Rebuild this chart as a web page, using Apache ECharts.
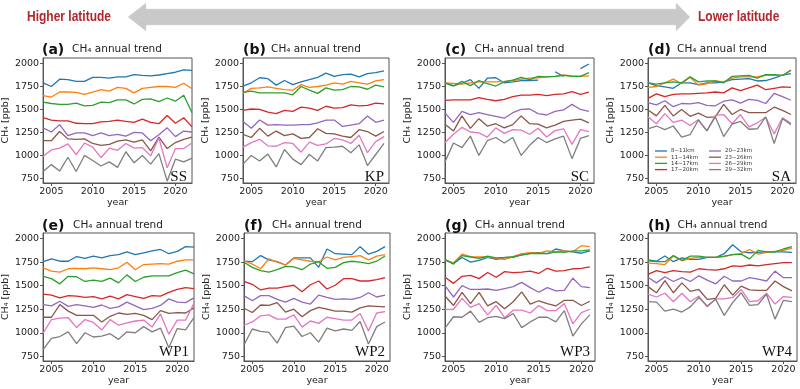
<!DOCTYPE html>
<html>
<head>
<meta charset="utf-8">
<script src="https://cdn.jsdelivr.net/npm/echarts@6/dist/echarts.min.js"></script>
<style>html,body{margin:0;padding:0;background:#fff}#c{width:800px;height:389px}</style>
</head>
<body>
<div id="c"></div>
<script>
// ---------- data ----------
const YEARS_LONG = [2004,2005,2006,2007,2008,2009,2010,2011,2012,2013,2014,2015,2016,2017,2018,2019,2020,2021,2022];
const YEARS = [2004,2005,2006,2007,2008,2009,2010,2011,2012,2013,2014,2015,2016,2017,2018,2019,2020,2021];
const LAYERS = ['8~11km','11~14km','14~17km','17~20km','20~23km','23~26km','26~29km','29~32km'];
const X_TICKS = [2005,2010,2015,2020];
const Y_TICKS = [750,1000,1250,1500,1750,2000];
const PANEL_LETTERS = ['(a)','(b)','(c)','(d)','(e)','(f)','(g)','(h)'];
const REGIONS = ['SS','KP','SC','SA','WP1','WP2','WP3','WP4'];

const SS = [
  [1790,1750,1830,1825,1805,1805,1850,1850,1840,1855,1855,1880,1870,1865,1875,1890,1905,1930,1925],
  [1650,1635,1690,1690,1685,1665,1690,1715,1700,1740,1730,1680,1730,1740,1750,1750,1740,1785,1725],
  [1580,1565,1555,1555,1570,1540,1545,1580,1575,1605,1605,1560,1610,1615,1585,1625,1590,1655,1465],
  [1410,1385,1375,1375,1350,1345,1345,1365,1370,1385,1370,1360,1395,1360,1345,1435,1350,1410,1310],
  [1300,1255,1335,1215,1245,1245,1215,1245,1215,1230,1210,1250,1245,1160,1225,1300,1205,1265,1255],
  [1160,1160,1260,1180,1175,1180,1130,1110,1120,1155,1170,1145,1170,1050,1200,1075,1140,1175,1200],
  [990,1060,1080,1125,1010,1135,1090,975,1080,1055,1130,1080,1085,995,1190,865,1075,1075,1135],
  [825,900,830,980,825,1000,945,885,930,870,1040,920,1000,905,1020,720,960,930,970]
];
const KP = [
  [1755,1790,1845,1835,1765,1815,1770,1800,1825,1850,1895,1860,1880,1885,1855,1890,1900,1920],
  [1675,1730,1735,1745,1730,1715,1710,1770,1740,1750,1765,1790,1775,1805,1790,1775,1810,1825],
  [1685,1700,1680,1680,1680,1680,1660,1750,1710,1675,1735,1710,1715,1750,1745,1720,1765,1745],
  [1490,1505,1500,1470,1455,1490,1480,1525,1515,1490,1535,1515,1520,1550,1540,1545,1570,1560],
  [1370,1295,1385,1330,1335,1330,1330,1335,1335,1355,1385,1385,1315,1330,1345,1430,1360,1385],
  [1230,1195,1295,1210,1265,1215,1235,1185,1195,1290,1240,1235,1210,1195,1280,1260,1210,1260],
  [1090,1140,1175,1105,1100,1140,1130,1035,1145,1110,1125,1185,1170,1130,1220,1030,1150,1205],
  [905,1000,940,1015,875,1065,960,900,1010,940,1085,1090,1100,1030,1115,890,1010,1130]
];
const SC = [
  [1790,1760,1785,1825,1730,1840,1845,1790,1800,1815,1815,1820,null,1910,1860,null,1945,1995],
  [1790,1785,1775,1790,1800,1800,1800,1805,1815,1830,1840,1845,1855,1860,1875,1865,1860,1865],
  [1790,1755,1805,1760,1815,1780,1755,1800,1820,1850,1825,1860,1855,1860,1870,1860,1860,1900],
  [1600,1605,1605,1605,1630,1610,1595,1610,1640,1655,1655,1665,1650,1665,1670,1695,1665,1690],
  [1460,1360,1480,1445,1465,1445,1425,1405,1465,1500,1505,1455,1440,1480,1495,1555,1500,1480],
  [1340,1265,1430,1295,1400,1320,1345,1300,1335,1430,1345,1340,1300,1330,1370,1385,1395,1355],
  [1140,1230,1305,1255,1245,1200,1300,1240,1280,1275,1230,1295,1200,1270,1290,1120,1280,1260],
  [930,1135,1085,1210,1000,1160,1195,1135,1195,1000,1110,1195,1140,1180,1210,965,1185,1215]
];
const SA = [
  [1790,1760,1745,1730,1790,1790,1770,1790,1790,1800,1825,1830,1835,1810,1815,1840,1875,1890],
  [1740,1750,1790,1830,1780,1850,1765,1780,1810,1800,1840,1855,1855,1855,1875,1870,1870,1925],
  [1790,1775,1790,1800,1790,1855,1800,1810,1810,1790,1860,1865,1870,1840,1880,1880,1870,1930],
  [1620,1670,1640,1665,1670,1670,1675,1680,1690,1680,1735,1705,1735,1765,1715,1730,1745,1740],
  [1575,1550,1595,1530,1565,1560,1575,1545,1540,1590,1605,1570,1610,1600,1565,1675,1640,1600],
  [1495,1430,1545,1430,1500,1425,1460,1415,1420,1555,1445,1500,1465,1465,1465,1525,1490,1445],
  [1420,1345,1455,1360,1385,1325,1390,1265,1435,1445,1345,1445,1310,1355,1415,1235,1410,1350],
  [1290,1320,1280,1320,1200,1225,1385,1270,1420,1205,1340,1370,1285,1290,1420,1130,1400,1335]
];
const WP1 = [
  [1755,1785,1760,1760,1810,1790,1815,1795,1820,1830,1860,1830,1850,1870,1885,1840,1865,1915,1910],
  [1690,1655,1645,1680,1685,1680,1690,1680,1670,1690,1750,1670,1725,1730,1735,1730,1760,1775,1775],
  [1600,1575,1520,1600,1595,1545,1560,1545,1580,1530,1615,1545,1590,1605,1605,1605,1640,1665,1625],
  [1410,1400,1370,1395,1390,1375,1385,1360,1390,1360,1405,1385,1365,1395,1390,1430,1460,1480,1470],
  [1300,1285,1335,1280,1300,1285,1270,1295,1260,1275,1325,1285,1245,1260,1290,1360,1325,1320,1370],
  [1165,1165,1300,1230,1185,1185,1185,1115,1175,1210,1195,1205,1185,1140,1235,1205,1215,1210,1265],
  [995,1140,1155,1160,1055,1140,1110,1030,1140,1080,1105,1125,1135,1060,1200,985,1135,1135,1315],
  [820,940,960,1010,885,1000,955,965,990,930,1010,1000,1065,1010,1050,840,1045,1030,1160]
];
const WP2 = [
  [1760,1755,1820,1775,1755,1720,1795,1795,1795,1695,1890,1840,1835,1830,1915,1835,1865,1915],
  [1765,1730,1680,1785,1750,1720,1790,1775,1760,1755,1805,1775,1800,1810,1820,1775,1815,1830],
  [1750,1695,1660,1645,1670,1705,1700,1670,1730,1755,1685,1695,1745,1760,1750,1735,1760,1815],
  [1545,1515,1455,1475,1475,1490,1505,1435,1510,1550,1465,1505,1575,1575,1550,1550,1565,1585],
  [1395,1340,1395,1395,1355,1325,1365,1325,1305,1400,1375,1355,1360,1355,1375,1425,1380,1400],
  [1260,1215,1295,1290,1320,1220,1250,1170,1235,1270,1250,1230,1230,1220,1265,1285,1280,1275],
  [1080,1115,1180,1190,1145,1145,1190,1060,1125,1100,1165,1150,1135,1135,1205,1020,1210,1225],
  [870,1040,1015,1005,890,1055,1070,960,1000,900,1050,1020,1040,1025,1120,880,1065,1115]
];
const WP3 = [
  [1775,1735,1800,1750,1770,1800,1780,1795,1800,1830,1845,1850,1840,1890,1870,1860,1845,1870],
  [1770,1745,1835,1810,1805,1805,1790,1780,1810,1840,1850,1845,1870,1860,1870,1860,1925,1915],
  [1780,1730,1820,1805,1790,1815,1795,1800,1810,1825,1840,1845,1840,1860,1855,1870,1870,1880],
  [1590,1525,1600,1610,1575,1640,1590,1650,1640,1645,1655,1630,1685,1655,1660,1680,1685,1700],
  [1500,1380,1500,1460,1460,1465,1450,1470,1490,1535,1480,1430,1480,1445,1450,1580,1490,1480],
  [1390,1290,1430,1310,1430,1285,1330,1255,1330,1435,1305,1340,1310,1285,1345,1345,1290,1335],
  [1245,1250,1365,1270,1310,1190,1290,1160,1240,1240,1210,1290,1235,1235,1310,1095,1215,1250],
  [1050,1170,1165,1230,1110,1160,1175,1150,1205,1055,1115,1165,1165,1115,1235,965,1095,1190]
];
const WP4 = [
  [1775,1760,1815,1755,1795,1780,1780,1800,1800,1840,1935,1860,1850,1855,1860,1860,1860,1855],
  [1740,1735,1725,1815,1765,1790,1800,1800,1800,1810,1830,1840,1885,1835,1855,1865,1875,1900],
  [1765,1755,1755,1820,1770,1815,1815,1800,1800,1815,1830,1835,1785,1875,1860,1860,1890,1915],
  [1620,1660,1640,1660,1650,1645,1680,1670,1665,1680,1710,1705,1720,1710,1725,1735,1745,1745],
  [1590,1530,1595,1545,1585,1545,1605,1560,1520,1600,1550,1550,1585,1570,1550,1655,1585,1585],
  [1490,1425,1555,1425,1530,1440,1460,1355,1365,1510,1400,1495,1455,1450,1450,1550,1490,1445],
  [1410,1380,1420,1330,1420,1330,1390,1275,1360,1360,1375,1460,1330,1340,1420,1305,1385,1375],
  [1330,1325,1230,1250,1220,1275,1375,1285,1355,1185,1320,1425,1290,1300,1410,1145,1345,1330]
];

// ---------- layout / style ----------
const COLORS = ['#1f77b4','#ff7f0e','#2ca02c','#d62728','#9467bd','#8c564b','#e377c2','#7f7f7f'];
const PANEL_DATA = [SS, KP, SC, SA, WP1, WP2, WP3, WP4];
const PANEL_YEARS = [YEARS_LONG, YEARS, YEARS, YEARS, YEARS_LONG, YEARS, YEARS, YEARS];
const BOXES = [
  {l:42, r:192, t:58, b:183}, {l:243, r:389, t:58, b:183}, {l:445, r:594, t:58, b:183}, {l:648, r:796, t:58, b:183},
  {l:42, r:194, t:233, b:361}, {l:244, r:390, t:233, b:361}, {l:445, r:595, t:233, b:361}, {l:648, r:797, t:233, b:361}
];
const FONT = "'DejaVu Sans', sans-serif";
const AX = '#555';
const plain = v => String(v);

const grids = [], xAxes = [], yAxes = [], series = [], graphics = [];
BOXES.forEach((bx, i) => {
  const yrs = PANEL_YEARS[i];
  grids.push({left: bx.l, top: bx.t, width: bx.r - bx.l, height: bx.b - bx.t, show: true, borderColor: AX, borderWidth: 1, containLabel: false});
  xAxes.push({
    type: 'value', gridIndex: i, min: 2004, max: yrs.length === 19 ? 2022 : 2021.6,
    name: 'year', nameLocation: 'middle', nameGap: 14,
    nameTextStyle: {fontFamily: FONT, fontSize: 9.5, color: '#222'},
    axisLine: {show: true, onZero: false, lineStyle: {color: AX, width: 1}},
    axisTick: {show: true, length: 3, customValues: X_TICKS, lineStyle: {color: AX}},
    axisLabel: {customValues: X_TICKS, formatter: plain, margin: 4, fontFamily: FONT, fontSize: 9.5, color: '#222'},
    splitLine: {show: false}
  });
  yAxes.push({
    type: 'value', gridIndex: i, min: 700, max: 2060,
    name: 'CH\u2084 [ppb]', nameLocation: 'middle', nameGap: 31, nameRotate: 90,
    nameTextStyle: {fontFamily: FONT, fontSize: 9.5, color: '#222'},
    axisLine: {show: true, onZero: false, lineStyle: {color: AX, width: 1}},
    axisTick: {show: true, length: 3, customValues: Y_TICKS, lineStyle: {color: AX}},
    axisLabel: {customValues: Y_TICKS, formatter: plain, margin: 4, fontFamily: FONT, fontSize: 9.5, color: '#222'},
    splitLine: {show: false}
  });
  PANEL_DATA[i].forEach((vals, k) => {
    series.push({
      type: 'line', name: LAYERS[k], xAxisIndex: i, yAxisIndex: i,
      data: yrs.map((y, j) => [y, vals[j] == null ? '-' : vals[j]]),
      showSymbol: false, symbol: 'none', connectNulls: false,
      lineStyle: {color: COLORS[k], width: 1.3},
      itemStyle: {color: COLORS[k]},
      emphasis: {disabled: true}, silent: true
    });
  });
  const top = i < 4;
  graphics.push({type: 'text', x: (bx.l + bx.r) / 2, y: top ? 49 : 225,
    style: {text: 'CH\u2084 annual trend', font: '10.5px ' + FONT, fill: '#222', textAlign: 'center', textVerticalAlign: 'middle'}});
  graphics.push({type: 'text', x: bx.l, y: top ? 50 : 226,
    style: {text: PANEL_LETTERS[i], font: 'bold 14px ' + FONT, fill: '#111', textAlign: 'left', textVerticalAlign: 'middle'}});
  graphics.push({type: 'text', x: bx.r - 5, y: top ? 185 : 360, z: 100,
    style: {text: REGIONS[i], font: "15px 'Liberation Serif', 'DejaVu Serif', serif", fill: '#111', textAlign: 'right', textVerticalAlign: 'bottom'}});
});

// top banner: double arrow and labels
graphics.push({type: 'polygon', shape: {points: [[128,17],[146,3],[146,9],[676,9],[676,3],[690,17],[676,31],[676,25],[146,25],[146,31]]},
  style: {fill: '#c9c9c9', stroke: '#d8d8d8', lineWidth: 0.5}});
const BANNER_FONT = "bold 15px 'Liberation Sans', 'DejaVu Sans', sans-serif";
graphics.push({type: 'text', x: 27, y: 17, scaleX: 0.8, style: {text: 'Higher latitude', font: BANNER_FONT, fill: '#b3262c', textAlign: 'left', textVerticalAlign: 'middle'}});
graphics.push({type: 'text', x: 698, y: 17, scaleX: 0.8, style: {text: 'Lower latitude', font: BANNER_FONT, fill: '#b3262c', textAlign: 'left', textVerticalAlign: 'middle'}});

const legendCommon = {
  orient: 'vertical', icon: 'rect', itemWidth: 12, itemHeight: 1.3, itemGap: 0.2, padding: 0,
  textStyle: {fontFamily: FONT, fontSize: 5.5, color: '#333', lineHeight: 5.5, padding: [0, 0, 0, -1]},
  selectedMode: false
};
const chart = echarts.init(document.getElementById('c'), null, {renderer: 'canvas'});
chart.setOption({
  animation: false,
  color: COLORS,
  grid: grids, xAxis: xAxes, yAxis: yAxes, series: series,
  legend: [
    Object.assign({left: 655, top: 148, data: LAYERS.slice(0, 4)}, legendCommon),
    Object.assign({left: 709, top: 148, data: LAYERS.slice(4)}, legendCommon)
  ],
  graphic: graphics
});
</script>
</body>
</html>
